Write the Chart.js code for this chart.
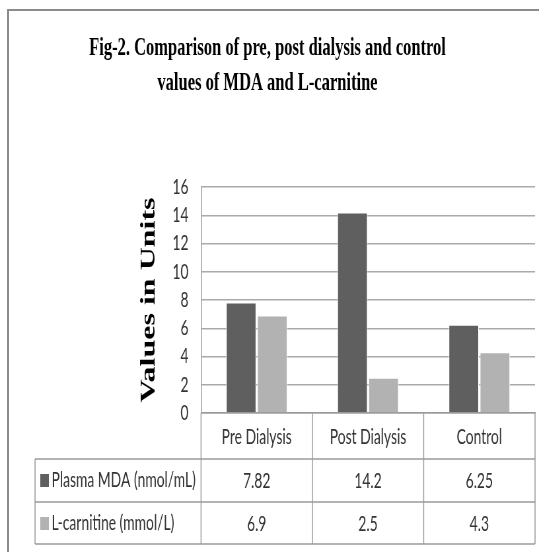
<!DOCTYPE html>
<html>
<head>
<meta charset="utf-8">
<script src="https://cdn.jsdelivr.net/npm/chart.js@4"></script>
<style>
  html, body { margin: 0; padding: 0; background: #ffffff; }
  body { width: 539px; height: 552px; overflow: hidden; position: relative; }
  #frame { position: absolute; left: 7px; top: 9px; width: 700px; height: 700px; border: 2px solid #8c8c8c; box-sizing: border-box; }
  #wrap { position: absolute; left: 0; top: 0; width: 816px; height: 552px; transform: scaleX(0.6605); transform-origin: 0 0; }
</style>
</head>
<body>
<div id="frame"></div>
<div id="wrap"><canvas id="c"></canvas></div>
<script>
const categories = ['Pre Dialysis', 'Post Dialysis', 'Control'];
const seriesNames = ['Plasma MDA (nmol/mL)', 'L-carnitine (mmol/L)'];
const plasmaMDA = [7.82, 14.2, 6.25];
const lCarnitine = [6.9, 2.5, 4.3];
const yMin = 0, yMax = 16, yStep = 2;
const titleLines = ['Fig-2. Comparison of pre, post dialysis and control', 'values of MDA and L-carnitine'];
const yTitle = 'Values in Units';

const seriesColors = ['#5f5f5f', '#b2b2b2'];
const seriesValues = [plasmaMDA, lCarnitine];

const tablePlugin = {
  id: 'dataTable',
  afterDraw(chart) {
    const ctx = chart.ctx;
    const x = chart.scales.x;
    const area = chart.chartArea;
    const top = area.bottom;
    const rowTops = [top, top + 46, top + 89];
    const bottom = top + 131;
    const tableLeft = 53;
    const n = categories.length;
    const centers = categories.map((_, i) => x.getPixelForValue(i));
    const bounds = [area.left];
    for (let i = 0; i < n - 1; i++) bounds.push((centers[i] + centers[i + 1]) / 2);
    bounds.push(area.right);

    ctx.save();
    ctx.strokeStyle = '#9a9a9a';
    ctx.lineWidth = 1.5;
    bounds.forEach(b => {
      ctx.beginPath(); ctx.moveTo(b, top); ctx.lineTo(b, bottom); ctx.stroke();
    });
    ctx.beginPath(); ctx.moveTo(tableLeft, rowTops[1]); ctx.lineTo(tableLeft, bottom); ctx.stroke();
    [rowTops[1], rowTops[2], bottom].forEach(yy => {
      ctx.beginPath(); ctx.moveTo(tableLeft, yy); ctx.lineTo(area.right, yy); ctx.stroke();
    });

    ctx.fillStyle = '#333333';
    ctx.font = '21px Lato';
    ctx.textBaseline = 'alphabetic';
    ctx.textAlign = 'center';
    categories.forEach((c, i) => ctx.fillText(c, centers[i], top + 31));
    const rowBase = [top + 75, top + 118];
    seriesValues.forEach((vals, r) => {
      vals.forEach((v, i) => ctx.fillText(String(v), centers[i], rowBase[r]));
    });
    ctx.textAlign = 'left';
    seriesNames.forEach((name, r) => {
      ctx.fillStyle = seriesColors[r];
      ctx.fillRect(61, rowBase[r] - 14, 13, 13);
      ctx.fillStyle = '#333333';
      ctx.fillText(name, 78, rowBase[r] - 1);
    });
    ctx.restore();
  }
};

new Chart(document.getElementById('c'), {
  type: 'bar',
  data: {
    labels: categories,
    datasets: [
      { label: seriesNames[0], data: plasmaMDA, backgroundColor: seriesColors[0], borderColor: '#ffffff', borderWidth: 1 },
      { label: seriesNames[1], data: lCarnitine, backgroundColor: seriesColors[1], borderColor: '#ffffff', borderWidth: 1 }
    ]
  },
  options: {
    responsive: true,
    maintainAspectRatio: false,
    animation: false,
    datasets: { bar: { categoryPercentage: 0.56, barPercentage: 0.97 } },
    layout: { padding: { left: 0, right: 6, top: 0, bottom: 131 } },
    plugins: {
      legend: { display: false },
      tooltip: { enabled: false },
      title: {
        display: true,
        text: titleLines,
        color: '#000000',
        font: { family: 'Liberation Serif', size: 25, weight: 'bold', lineHeight: 1.4 },
        padding: { top: 31, bottom: 86 }
      }
    },
    scales: {
      x: {
        ticks: { display: false },
        grid: { display: false },
        border: { display: true, color: '#9a9a9a', width: 1.5 }
      },
      y: {
        min: yMin, max: yMax,
        ticks: { stepSize: yStep, padding: 19, color: '#333333', font: { family: 'Lato', size: 21 } },
        grid: { color: '#aaaaaa', lineWidth: 1.5, drawTicks: false },
        border: { display: true, color: '#9a9a9a', width: 1.5 },
        title: {
          display: true, text: yTitle, color: '#000000',
          font: { family: 'Liberation Serif', size: 32, weight: 'bold', lineHeight: 1.0 },
          padding: { top: 210, bottom: 0 }
        }
      }
    }
  },
  plugins: [tablePlugin]
});
</script>
</body>
</html>
